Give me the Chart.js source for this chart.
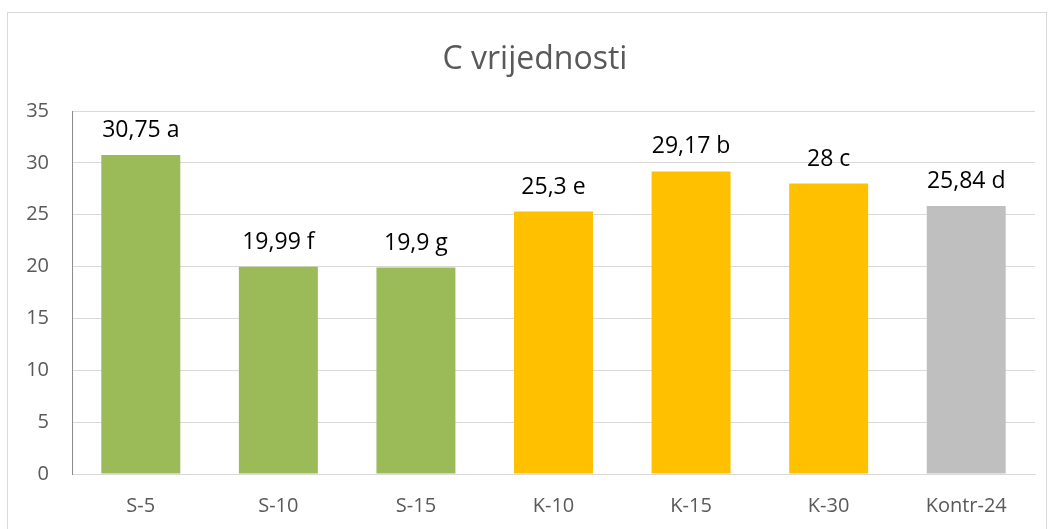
<!DOCTYPE html>
<html>
<head>
<meta charset="utf-8">
<script src="https://cdn.jsdelivr.net/npm/chart.js@4/dist/chart.umd.min.js"></script>
<style>
html,body{margin:0;padding:0;background:#fff;}
#wrap{position:relative;width:1051px;height:529px;}
</style>
</head>
<body>
<div id="wrap"><canvas id="c" width="1051" height="529"></canvas></div>
<script>
const categories = ['S-5','S-10','S-15','K-10','K-15','K-30','Kontr-24'];
const values = [30.75, 19.99, 19.9, 25.3, 29.17, 28, 25.84];
const labels = ['30,75 a','19,99 f','19,9 g','25,3 e','29,17 b','28 c','25,84 d'];
const colors = ['#9BBB59','#9BBB59','#9BBB59','#FFC000','#FFC000','#FFC000','#BFBFBF'];
const yTicks = [0,5,10,15,20,25,30,35];
const titleText = 'C vrijednosti';

const FONT = "'Open Sans', 'Noto Sans', sans-serif";

const borderPlugin = {
  id: 'outerBorder',
  beforeDraw(chart) {
    const ctx = chart.ctx;
    ctx.save();
    ctx.fillStyle = '#fff';
    ctx.fillRect(0,0,chart.width,chart.height);
    ctx.strokeStyle = '#d9d9d9';
    ctx.lineWidth = 1;
    ctx.strokeRect(7.5, 12.5, chart.width - 12, chart.height + 10);
    ctx.font = "32px " + FONT;
    ctx.fillStyle = '#595959';
    ctx.textAlign = 'center';
    ctx.textBaseline = 'alphabetic';
    ctx.fillText(titleText, 535, 69);
    ctx.restore();
  }
};

const labelPlugin = {
  id: 'barLabels',
  afterDatasetsDraw(chart) {
    const ctx = chart.ctx;
    const meta = chart.getDatasetMeta(0);
    ctx.save();
    ctx.font = "23px " + FONT;
    ctx.fillStyle = '#000';
    ctx.textAlign = 'center';
    ctx.textBaseline = 'alphabetic';
    meta.data.forEach((bar, i) => {
      ctx.fillText(labels[i], bar.x, bar.y - 18);
    });
    ctx.restore();
  }
};

new Chart(document.getElementById('c'), {
  type: 'bar',
  data: {
    labels: categories,
    datasets: [{
      data: values,
      backgroundColor: colors,
      borderWidth: 0,
      barPercentage: 0.574,
      categoryPercentage: 1
    }]
  },
  options: {
    responsive: false,
    animation: false,
    layout: { padding: { left: 22, right: 16, top: 111, bottom: 0 } },
    plugins: {
      legend: { display: false },
      tooltip: { enabled: false },
      title: { display: false }
    },
    scales: {
      x: {
        grid: { display: false, drawTicks: false },
        border: { display: true, color: '#d9d9d9' },
        ticks: { color: '#595959', font: { family: FONT, size: 20 }, padding: 20 },
        afterFit(s) { s.height = 55; }
      },
      y: {
        min: 0, max: 35,
        afterBuildTicks(s) { s.ticks = yTicks.map(v => ({ value: v })); },
        grid: { color: '#d9d9d9', drawTicks: false },
        border: { display: true, color: '#8c8c8c' },
        ticks: { color: '#595959', font: { family: FONT, size: 20 }, padding: 23 },
        afterFit(s) { s.width = 50; }
      }
    }
  },
  plugins: [borderPlugin, labelPlugin]
});
</script>
</body>
</html>
